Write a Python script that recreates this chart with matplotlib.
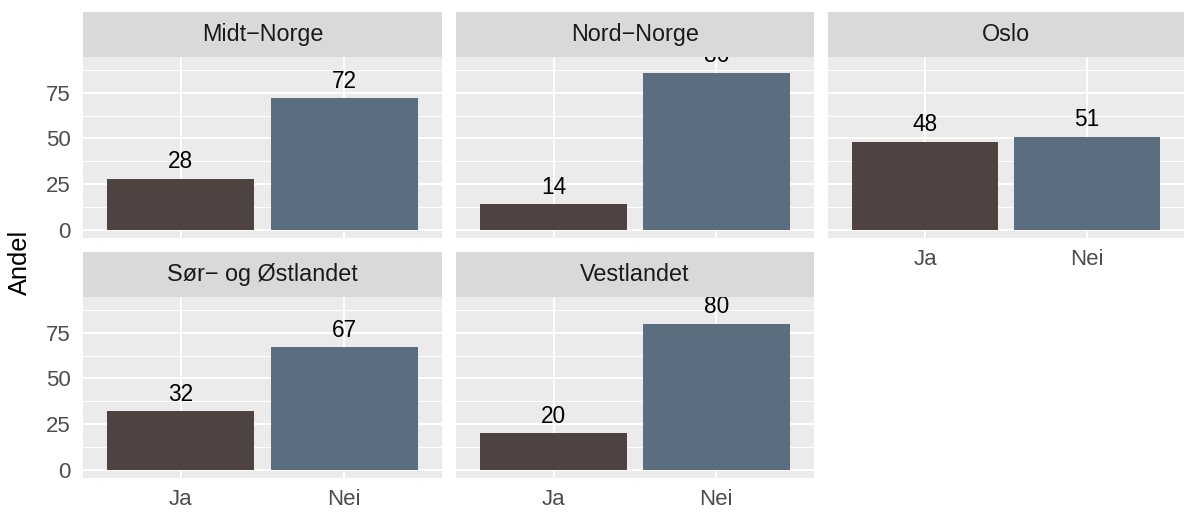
import matplotlib.pyplot as plt
from matplotlib.ticker import MultipleLocator

# data
regions = ["Midt−Norge", "Nord−Norge", "Oslo", "Sør− og Østlandet", "Vestlandet"]
answers = ["Ja", "Nei"]
ja_values = [28, 14, 48, 32, 20]
nei_values = [72, 86, 51, 67, 80]
colors = ["#4E4340", "#5A6E7F"]

plt.rcParams['font.family'] = ['Liberation Sans', 'DejaVu Sans']

W, H = 1184, 513
fig = plt.figure(figsize=(W / 100, H / 100), dpi=100)

# panel boxes in pixels (left, right) and (strip top, panel top, panel bottom)
cols = [(83, 442), (456, 814), (828, 1184)]
rows = [(12, 57, 238), (252, 297, 478)]

for i, region in enumerate(regions):
    r, c = divmod(i, 3)
    x0, x1 = cols[c]
    s0, p0, p1 = rows[r]
    ax = fig.add_axes([x0 / W, 1 - p1 / H, (x1 - x0) / W, (p1 - p0) / H])
    strip = fig.add_axes([x0 / W, 1 - p0 / H, (x1 - x0) / W, (p0 - s0) / H])

    ax.set_facecolor("#EBEBEB")
    vals = [ja_values[i], nei_values[i]]
    xs = [1, 2]
    ax.bar(xs, vals, width=0.9, color=colors, zorder=3)
    for x, v in zip(xs, vals):
        ax.annotate(f"{v}", (x, v), xytext=(0, 4), textcoords="offset points",
                    ha="center", va="bottom", fontsize=16.3, color="black",
                    annotation_clip=False, clip_on=True, zorder=4)
    ax.set_xlim(0.4, 2.6)
    ax.set_ylim(-4.5, 94.5)
    ax.set_xticks(xs)
    ax.yaxis.set_major_locator(MultipleLocator(25))
    ax.yaxis.set_minor_locator(MultipleLocator(12.5))
    ax.grid(which="major", color="white", linewidth=1.4, zorder=1)
    ax.grid(which="minor", axis="y", color="white", linewidth=0.7, zorder=1)
    ax.set_axisbelow(True)
    for sp in ax.spines.values():
        sp.set_visible(False)
    ax.tick_params(which="both", length=0, labelsize=16, labelcolor="#4D4D4D")
    ax.tick_params(axis="y", pad=9)
    ax.tick_params(axis="x", pad=8)

    # x labels only where no panel below
    if i + 3 < len(regions):
        ax.set_xticklabels([])
    else:
        ax.set_xticklabels(answers)
    if c != 0:
        ax.set_yticklabels([])

    strip.set_facecolor("#D9D9D9")
    strip.set_xticks([])
    strip.set_yticks([])
    for sp in strip.spines.values():
        sp.set_visible(False)
    strip.text(0.5, 0.5, region, ha="center", va="center", fontsize=16.8,
               color="#1A1A1A", transform=strip.transAxes)

fig.text(20 / W, 1 - 262 / H, "Andel", rotation=90, ha="center", va="center",
         fontsize=18.3)

fig.savefig("out.png", dpi=100)
